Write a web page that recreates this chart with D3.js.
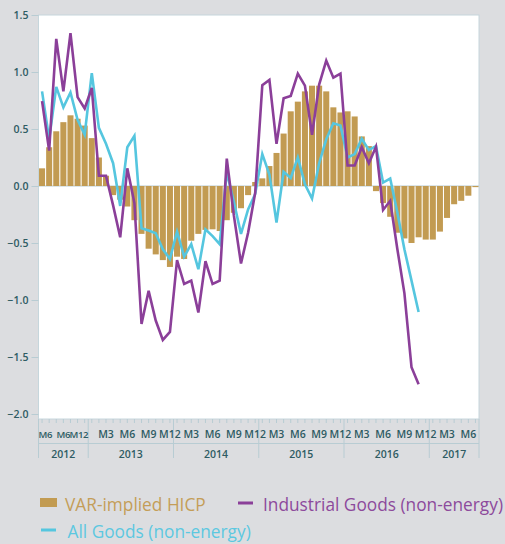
<!DOCTYPE html>
<html>
<head>
<meta charset="UTF-8" />
<script src="https://d3js.org/d3.v7.min.js"></script>
<style>
  body { margin: 0; background: #dcdde0; }
  svg { display: block; }
  .tick-label { font-family: "Open Sans", sans-serif; font-size: 10.5px; font-weight: 600; fill: #2e5b63; }
  .tick-label.tight { font-size: 9.6px; letter-spacing: -0.4px; }
  .legend { font-family: "Open Sans", sans-serif; font-size: 17.3px; }
</style>
</head>
<body>
<svg id="chart"></svg>
<script>
  // months 2012-06 .. 2017-07
  const months = [
    "2012-06","2012-07","2012-08","2012-09","2012-10","2012-11","2012-12",
    "2013-01","2013-02","2013-03","2013-04","2013-05","2013-06","2013-07","2013-08","2013-09","2013-10","2013-11","2013-12",
    "2014-01","2014-02","2014-03","2014-04","2014-05","2014-06","2014-07","2014-08","2014-09","2014-10","2014-11","2014-12",
    "2015-01","2015-02","2015-03","2015-04","2015-05","2015-06","2015-07","2015-08","2015-09","2015-10","2015-11","2015-12",
    "2016-01","2016-02","2016-03","2016-04","2016-05","2016-06","2016-07","2016-08","2016-09","2016-10","2016-11","2016-12",
    "2017-01","2017-02","2017-03","2017-04","2017-05","2017-06","2017-07"
  ];

  const varHicp = [
    0.155, 0.34, 0.48, 0.56, 0.62, 0.59, 0.53,
    0.42, 0.25, 0.09, -0.08, -0.12, -0.18, -0.30, -0.42, -0.55, -0.60, -0.65, -0.71,
    -0.62, -0.64, -0.48, -0.42, -0.385, -0.38, -0.395, -0.30, -0.235, -0.195, -0.08, 0.035,
    0.067, 0.175, 0.29, 0.46, 0.655, 0.74, 0.83, 0.88, 0.88, 0.83, 0.69, 0.645,
    0.655, 0.61, 0.435, 0.35, -0.045, -0.15, -0.27, -0.41, -0.46, -0.50, -0.45, -0.47,
    -0.47, -0.40, -0.28, -0.16, -0.13, -0.085, -0.01
  ];

  const industrialGoods = [
    0.745, 0.31, 1.29, 0.83, 1.34, 0.78, 0.68,
    0.86, 0.09, 0.09, -0.17, -0.45, 0.155, -0.15, -1.21, -0.92, -1.18, -1.35, -1.28,
    -0.65, -0.86, -0.83, -1.11, -0.66, -0.86, -0.83, 0.24, -0.26, -0.68, -0.41, -0.06,
    0.885, 0.93, 0.37, 0.77, 0.79, 0.985, 0.88, 0.45, 0.89, 1.10, 0.95, 0.985,
    0.18, 0.18, 0.34, 0.20, 0.345, -0.21, -0.13, -0.55, -0.94, -1.59, -1.74
  ];

  const allGoods = [
    0.83, 0.41, 0.87, 0.69, 0.82, 0.58, 0.45,
    0.99, 0.51, 0.37, 0.20, -0.175, 0.34, 0.44, -0.37, -0.39, -0.415, -0.555, -0.64,
    -0.40, -0.62, -0.51, -0.73, -0.38, -0.44, -0.51, 0.12, -0.14, -0.42, -0.205, -0.07,
    0.28, 0.10, -0.32, 0.125, 0.07, 0.25, 0.015, -0.11, 0.20, 0.41, 0.55, 0.53,
    0.25, 0.28, 0.415, 0.315, 0.35, 0.03, 0.065, -0.23, -0.555, -0.83, -1.105
  ];

  const monthTicks = [
    ["2012-06","M6"],["2012-09","M6"],["2012-12","M12"],
    ["2013-03","M3"],["2013-06","M6"],["2013-09","M9"],["2013-12","M12"],
    ["2014-03","M3"],["2014-06","M6"],["2014-09","M9"],["2014-12","M12"],
    ["2015-03","M3"],["2015-06","M6"],["2015-09","M9"],["2015-12","M12"],
    ["2016-03","M3"],["2016-06","M6"],["2016-09","M9"],["2016-12","M12"],
    ["2017-03","M3"],["2017-06","M6"]
  ];
  const years = ["2012","2013","2014","2015","2016","2017"];
  const yTicks = [1.5, 1.0, 0.5, 0.0, -0.5, -1.0, -1.5, -2.0];

  const colBar = "#c29b52", colPurple = "#8b3f99", colCyan = "#55c6df";
  const colAxis = "#b8ccd3";

  const W = 505, H = 544;
  const pLeft = 38.5, pRight = 479, pTop = 15, pBottom = 419;

  const svg = d3.select("#chart").attr("width", W).attr("height", H);

  const x = d3.scaleBand().domain(months).range([pLeft, pRight])
              .paddingInner(0.15).paddingOuter(0.075);
  const y = d3.scaleLinear().domain([-2, 1.5]).range([414, 15]);
  const cx = m => x(m) + x.bandwidth() / 2;

  // plot area
  svg.append("rect")
     .attr("x", pLeft).attr("y", pTop)
     .attr("width", pRight - pLeft).attr("height", pBottom - pTop)
     .attr("fill", "#fff").attr("stroke", "#c6d6dc").attr("stroke-width", 1);

  // y axis
  const yAxis = svg.append("g")
     .attr("transform", `translate(${pLeft},0)`)
     .call(d3.axisLeft(y).tickValues(yTicks).tickFormat(d3.format(".1f")).tickSize(7).tickPadding(3));
  yAxis.select(".domain").remove();
  yAxis.selectAll("line").attr("stroke", colAxis);
  yAxis.attr("font-family", null).attr("font-size", null);
  yAxis.selectAll("text").attr("class", "tick-label").attr("fill", null);

  // zero line
  svg.append("line")
     .attr("x1", pLeft).attr("x2", pRight)
     .attr("y1", y(0)).attr("y2", y(0))
     .attr("stroke", colAxis).attr("stroke-width", 1.2);

  // bars
  svg.selectAll(".bar")
     .data(months.map((m, i) => ({ m, v: varHicp[i] })))
     .enter().append("rect")
       .attr("class", "bar")
       .attr("x", d => x(d.m))
       .attr("width", x.bandwidth())
       .attr("y", d => y(Math.max(0, d.v)))
       .attr("height", d => Math.abs(y(d.v) - y(0)))
       .attr("fill", colBar);

  // lines
  const line = d3.line().x(d => cx(d.m)).y(d => y(d.v));
  function drawLine(vals, color) {
    svg.append("path")
       .datum(vals.map((v, i) => ({ m: months[i], v })))
       .attr("d", line)
       .attr("fill", "none")
       .attr("stroke", color)
       .attr("stroke-width", 2.6);
  }
  drawLine(allGoods, colCyan);
  drawLine(industrialGoods, colPurple);

  // x axis (month ticks, month labels, year labels)
  const ax = svg.append("g");
  ax.selectAll(".mt").data(months).enter().append("line")
     .attr("x1", cx).attr("x2", cx)
     .attr("y1", pBottom).attr("y2", pBottom + 4)
     .attr("stroke", colAxis);

  ax.append("line")
     .attr("x1", pLeft).attr("x2", pRight)
     .attr("y1", 443.5).attr("y2", 443.5)
     .attr("stroke", colAxis);

  const yearSpan = yr => {
    const ms = months.filter(m => m.startsWith(yr));
    return [x(ms[0]) - x.step() * x.paddingInner() / 2,
            x(ms[ms.length - 1]) + x.bandwidth() + x.step() * x.paddingInner() / 2];
  };
  const isShort = yr => { const [a, b] = yearSpan(yr); return b - a < x.step() * 8; };

  const bounds = [pLeft].concat(years.map(yr => Math.min(pRight, yearSpan(yr)[1])));
  ax.selectAll(".ys").data(bounds).enter().append("line")
     .attr("x1", d => d).attr("x2", d => d)
     .attr("y1", pBottom).attr("y2", 458)
     .attr("stroke", colAxis);

  // the first year is only 7 months wide and its three labels are squeezed
  ax.selectAll(".ml").data(monthTicks).enter().append("text")
     .attr("class", d => "tick-label" + (d[0].startsWith(years[0]) ? " tight" : ""))
     .attr("text-anchor", "middle")
     .attr("y", 438)
     .text(d => d[1])
     .attr("x", function(d) {
       let px = cx(d[0]);
       const yr = d[0].slice(0, 4);
       const [a, b] = yearSpan(yr);
       const hw = this.getComputedTextLength() / 2;
       if (isShort(yr)) px = Math.max(a + hw, Math.min(b - hw, px));
       return px;
     });

  ax.selectAll(".yl").data(years).enter().append("text")
     .attr("class", "tick-label")
     .attr("text-anchor", "middle")
     .attr("x", d => { const [a, b] = yearSpan(d); return (Math.max(a, pLeft) + Math.min(b, pRight)) / 2; })
     .attr("y", 458)
     .text(d => d);

  // legend
  const lg = svg.append("g");
  lg.append("rect").attr("x", 40).attr("y", 498).attr("width", 17).attr("height", 9).attr("fill", colBar);
  lg.append("text").attr("class", "legend").attr("x", 65).attr("y", 510.5).attr("fill", "#c49d58").text("VAR-implied HICP");
  lg.append("line").attr("x1", 238).attr("x2", 253).attr("y1", 503).attr("y2", 503).attr("stroke", colPurple).attr("stroke-width", 3);
  lg.append("text").attr("class", "legend").attr("x", 263).attr("y", 510.5).attr("fill", "#8d4a9c").text("Industrial Goods (non-energy)");
  lg.append("line").attr("x1", 41).attr("x2", 56).attr("y1", 530).attr("y2", 530).attr("stroke", colCyan).attr("stroke-width", 3);
  lg.append("text").attr("class", "legend").attr("x", 67.5).attr("y", 537.5).attr("fill", "#5cc8e0").text("All Goods (non-energy)");
</script>
</body>
</html>
